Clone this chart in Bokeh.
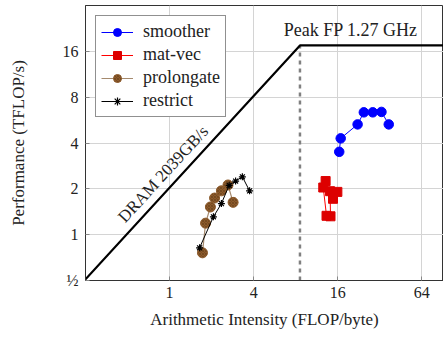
from bokeh.plotting import figure
from bokeh.models import Range1d, FixedTicker, CustomJSTickFormatter, Legend
from bokeh.core.properties import value
from bokeh.embed import file_html
from bokeh.resources import INLINE

# ---- data ----
smoother_x = [16.4, 16.8, 22.2, 24.6, 28.5, 32.9, 37.1]
smoother_y = [3.50, 4.29, 5.30, 6.36, 6.36, 6.40, 5.30]

matvec_x = [13.1, 12.6, 13.3, 14.2, 14.1, 15.9, 14.8]
matvec_y = [2.25, 2.04, 1.33, 1.32, 1.93, 1.91, 1.72]

prolong_x = [1.72, 1.81, 1.96, 2.10, 2.35, 2.62, 2.85]
prolong_y = [0.76, 1.19, 1.52, 1.74, 1.94, 2.12, 1.63]

restrict_x = [1.64, 2.06, 2.35, 2.67, 2.97, 3.32, 3.74]
restrict_y = [0.82, 1.31, 1.60, 2.11, 2.25, 2.40, 1.94]

bandwidth_tb = 2.039   # TB/s (2039 GB/s)
peak_tflops = 17.5
x_ticks = [1, 4, 16, 64]
y_ticks = [0.5, 1, 2, 4, 8, 16]

ridge = peak_tflops / bandwidth_tb
roof_x = [0.25, ridge, 200]
roof_y = [bandwidth_tb * 0.25, peak_tflops, peak_tflops]

FONT = "Liberation Serif"

p = figure(width=443, height=339, x_axis_type="log", y_axis_type="log",
           x_range=Range1d(0.25, 91.5), y_range=Range1d(0.5, 32),
           output_backend="svg", toolbar_location=None,
           min_border_left=85, min_border_right=0, min_border_top=5, min_border_bottom=59)

p.outline_line_color = "#333333"
p.outline_line_width = 1
p.background_fill_color = "white"
p.border_fill_color = "white"

for ax in (p.xaxis[0], p.yaxis[0]):
    ax.major_label_text_font = FONT
    ax.major_label_text_font_size = "16px"
    ax.major_label_text_color = "#222222"
    ax.axis_label_text_font = FONT
    ax.axis_label_text_font_size = "17px"
    ax.axis_label_text_font_style = "normal"
    ax.axis_label_text_color = "#222222"
    ax.major_tick_in = 4
    ax.major_tick_out = 0
    ax.minor_tick_line_color = None
    ax.major_tick_line_color = "#888888"
    ax.axis_line_color = "#333333"
    ax.formatter = CustomJSTickFormatter(code="return tick == 0.5 ? '\u00bd' : String(tick);")

p.xaxis.ticker = FixedTicker(ticks=x_ticks)
p.yaxis.ticker = FixedTicker(ticks=y_ticks)
p.xaxis.axis_label = "Arithmetic Intensity (FLOP/byte)"
p.yaxis.axis_label = "Performance (TFLOP/s)"
p.xaxis.major_label_standoff = 6
p.yaxis.major_label_standoff = 7
p.xaxis.axis_label_standoff = 9
p.yaxis.axis_label_standoff = 32

p.xgrid.grid_line_color = "#d4d4d4"
p.ygrid.grid_line_color = "#d4d4d4"
p.xgrid.ticker = FixedTicker(ticks=x_ticks)
p.ygrid.ticker = FixedTicker(ticks=y_ticks)

# roofline
p.line([ridge, ridge], [0.5, peak_tflops], line_color="#808080", line_width=2.5, line_dash="4 4")
p.line(roof_x, roof_y, line_color="black", line_width=2.2)

p.text(x=[19.8], y=[22.0], text=["Peak FP 1.27 GHz"], text_font=value(FONT),
       text_font_size="18px", text_align="center", text_baseline="middle", text_color="#222222")
p.text(x=[0.90], y=[2.5], text=["DRAM 2039GB/s"], text_font=value(FONT),
       text_font_size="17px", text_align="center", text_baseline="middle", angle=0.827,
       text_color="#222222")

# series
l1 = p.line(smoother_x, smoother_y, line_color="blue", line_width=1)
m1 = p.scatter(smoother_x, smoother_y, marker="circle", size=9.5, fill_color="blue", line_color="blue")

l2 = p.line(matvec_x, matvec_y, line_color="red", line_width=1)
m2 = p.scatter(matvec_x, matvec_y, marker="square", size=9, fill_color="#dd0000", line_color="#dd0000")

l3 = p.line(prolong_x, prolong_y, line_color="#a58a6e", line_width=1.2)
m3 = p.scatter(prolong_x, prolong_y, marker="circle", size=10, fill_color="#8c5a2b", line_color="#8c5a2b",
               hatch_pattern="diagonal_cross", hatch_color="#5e3a16", hatch_scale=3, hatch_alpha=0.5)

l4 = p.line(restrict_x, restrict_y, line_color="black", line_width=1)
m4 = p.scatter(restrict_x, restrict_y, marker="asterisk", size=7, line_color="black", line_width=1.2)

legend = Legend(items=[("smoother", [l1, m1]), ("mat-vec", [l2, m2]),
                       ("prolongate", [l3, m3]), ("restrict", [l4, m4])],
                location="top_left", margin=10)
legend.label_text_font = FONT
legend.label_text_font_size = "18px"
legend.label_text_color = "#222222"
legend.border_line_color = "#222222"
legend.border_line_width = 1
legend.padding = 5
legend.spacing = 2
legend.glyph_width = 32
legend.glyph_height = 20
legend.label_height = 20
legend.label_standoff = 10
legend.background_fill_alpha = 1
p.add_layout(legend)

open("out.html", "w").write(file_html(p, INLINE))
